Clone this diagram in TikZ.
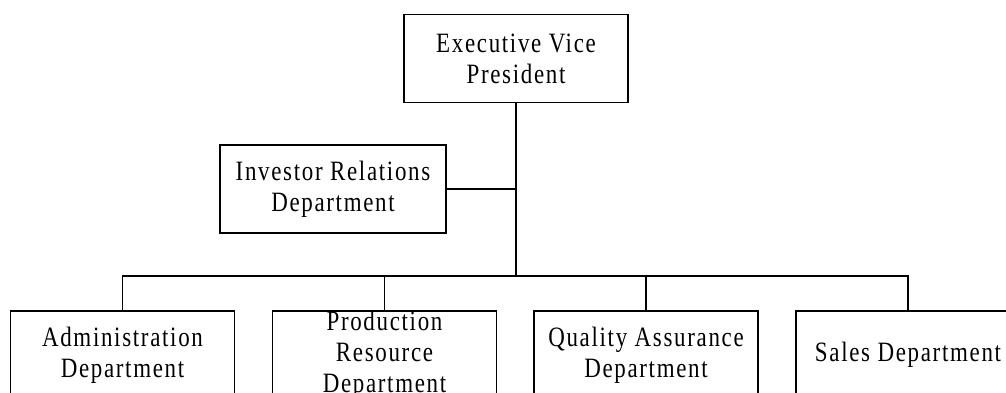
\documentclass[tikz,border=0pt]{standalone}
\usepackage{fontspec}
\setmainfont{Liberation Serif}[LetterSpace=6, FakeStretch=0.82]
\usepackage{tikz}
\usetikzlibrary{positioning}

\begin{document}
\begin{tikzpicture}[
    x=0.5pt, y=0.5pt,
    orgbox/.style={draw, line width=0.9pt, minimum width=112pt, minimum height=44pt, inner sep=0pt,
        align=center, font=\fontsize{14}{15.5}\selectfont},
    link/.style={line width=0.9pt}
]
\clip (0,0) rectangle (1006,392);
% Top of the chart
\node[orgbox] (evp) at (516,333.5) {Executive Vice\\President};
\node[orgbox, minimum width=113pt] (irel) at (333,203) {Investor Relations\\Department};
\coordinate (hub) at (516,116);
% Departments
\foreach \n/\x/\txt in {admin/122.5/{Administration\\Department}, prod/384.5/{Production\\Resource\\Department},
    qa/646/{Quality Assurance\\Department}, sales/908/{Sales Department}} {
    \node[orgbox] (\n) at (\x,37) {\txt};
}
% Connectors
\draw[link] (evp.south) -- (hub);
\draw[link] (irel.east) -- (irel.east -| hub);
\draw[link] (admin.north) |- (hub) -| (sales.north);
\foreach \n in {prod, qa} {
    \draw[link] (\n.north) -- (\n.north |- hub);
}
\end{tikzpicture}
\end{document}
